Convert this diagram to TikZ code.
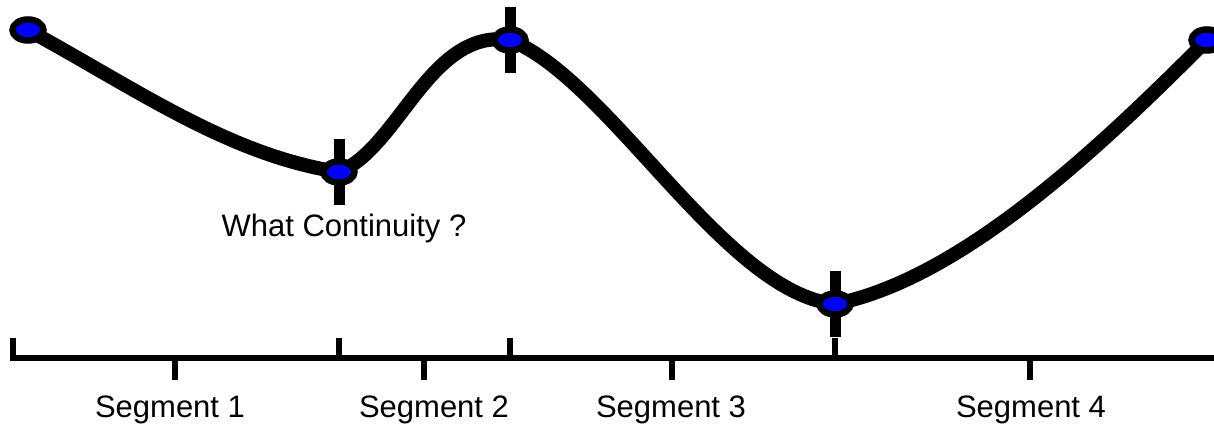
\documentclass[tikz,border=0pt]{standalone}
\usepackage{fontspec}
\setmainfont{Liberation Sans}
\usepackage{tikz}
\usetikzlibrary{shapes.geometric}

\begin{document}
\begin{tikzpicture}[x=0.5pt,y=-0.5pt,font=\fontsize{15.5}{18}\selectfont]
    \tikzstyle{knot}=[draw=black,fill=blue,ellipse,line width=3.25pt,minimum width=15.5pt,minimum height=10.5pt,inner sep=0pt]
    \tikzstyle{curve}=[line width=7pt]
    \tikzstyle{bar}=[line width=5.5pt]
    \tikzstyle{axis}=[line width=3pt]
    \tikzstyle{seg}=[anchor=base]
    \useasboundingbox (0,0) rectangle (1214,423);
    \coordinate (p0) at (28,30);
    \coordinate (p1) at (339,172);
    \coordinate (p2) at (510,40);
    \coordinate (p3) at (835,304);
    \coordinate (p4) at (1207,40);
    \draw[curve] (p0) .. controls (138,90) and (229,155) .. (p1)
                      .. controls (399,148) and (430,28) .. (p2)
                      .. controls (610,80) and (725,293) .. (p3)
                      .. controls (965,278) and (1107,140) .. (p4);
    \foreach \p in {p1,p2,p3}
      \draw[bar] ([yshift=16.5pt]\p) -- ([yshift=-16.5pt]\p);
    \node[knot] (k0) at (p0) {};
    \node[knot] (k1) at (p1) {};
    \node[knot] (k2) at (p2) {};
    \node[knot] (k3) at (p3) {};
    \node[knot] (k4) at (p4) {};
    \node[seg] (q) at (344,236) {What Continuity ?};
    \coordinate (a0) at (13,338);
    \coordinate (a1) at (13,358);
    \coordinate (aend) at (1225,358);
    \draw[axis] (a0) -- (a1) -- (aend);
    \foreach \x in {339,510,835}
      \draw[axis] (\x,358) -- (\x,338);
    \foreach \x in {175,424,672,1030}
      \draw[axis] (\x,358) -- (\x,380);
    \node[seg] (s1) at (170,417) {Segment 1};
    \node[seg] (s2) at (434,417) {Segment 2};
    \node[seg] (s3) at (671,417) {Segment 3};
    \node[seg] (s4) at (1031,417) {Segment 4};
  \end{tikzpicture}
\end{document}
